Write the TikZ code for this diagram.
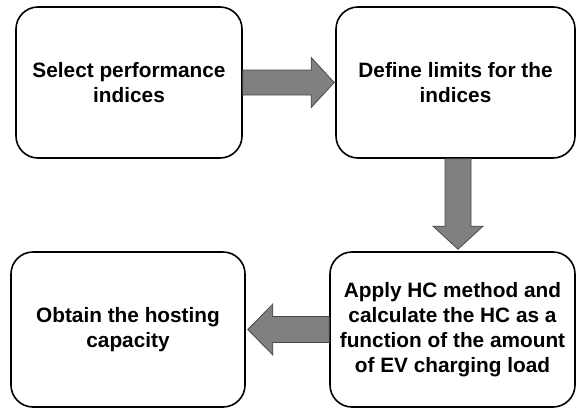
\documentclass[tikz,border=0pt]{standalone}
\usepackage{fontspec}
\setmainfont{Liberation Sans}
\begin{document}
\begin{tikzpicture}[x=1pt,y=-1pt,
  stepbox/.style={draw=black,line width=1.6pt,rounded corners=22pt,fill=white,
    inner sep=0pt,align=center,
    font=\fontsize{20.8}{25}\selectfont\bfseries},
  blockarrow/.style={fill=arrowgray,draw=arrowedge,line width=0.8pt,line join=miter}]
\definecolor{arrowgray}{HTML}{808080}
\definecolor{arrowedge}{HTML}{4A4A4A}
\useasboundingbox (0,0) rectangle (577,412);

% process steps
\node[stepbox,minimum width=226pt,minimum height=151pt] (b1) at (129,82.5)
  {Select performance\\indices};
\node[stepbox,minimum width=239pt,minimum height=151pt] (b2) at (455.5,82.5)
  {Define limits for the\\indices};
\node[stepbox,minimum width=245pt,minimum height=155pt] (b3) at (452.5,329.5)
  {Apply HC method and\\calculate the HC as a\\function of the amount\\of EV charging load};
\node[stepbox,minimum width=234pt,minimum height=155pt] (b4) at (128,329.5)
  {Obtain the hosting\\capacity};

% block arrow b1 -> b2
\draw[blockarrow]
  ([yshift=12.5pt]b1.east) -- ([xshift=-24pt,yshift=12.5pt]b2.west)
  -- ([xshift=-24pt,yshift=25pt]b2.west) -- ([xshift=-1pt]b2.west)
  -- ([xshift=-24pt,yshift=-25pt]b2.west) -- ([xshift=-24pt,yshift=-12.5pt]b2.west)
  -- ([yshift=-12.5pt]b1.east) -- cycle;

% block arrow b2 -> b3
\coordinate (d1) at ([xshift=2.5pt]b2.south);
\coordinate (d2) at ([xshift=5.5pt,yshift=2pt]b3.north);
\draw[blockarrow]
  ([xshift=-13pt]d1) -- ([xshift=-13pt,yshift=23pt]d2)
  -- ([xshift=-25pt,yshift=23pt]d2) -- (d2)
  -- ([xshift=25pt,yshift=23pt]d2) -- ([xshift=13pt,yshift=23pt]d2)
  -- ([xshift=13pt]d1) -- cycle;

% block arrow b3 -> b4
\draw[blockarrow]
  ([yshift=13pt]b3.west) -- ([xshift=27pt,yshift=13pt]b4.east)
  -- ([xshift=27pt,yshift=25.5pt]b4.east) -- ([xshift=2pt]b4.east)
  -- ([xshift=27pt,yshift=-25.5pt]b4.east) -- ([xshift=27pt,yshift=-13pt]b4.east)
  -- ([yshift=-13pt]b3.west) -- cycle;
\end{tikzpicture}
\end{document}
